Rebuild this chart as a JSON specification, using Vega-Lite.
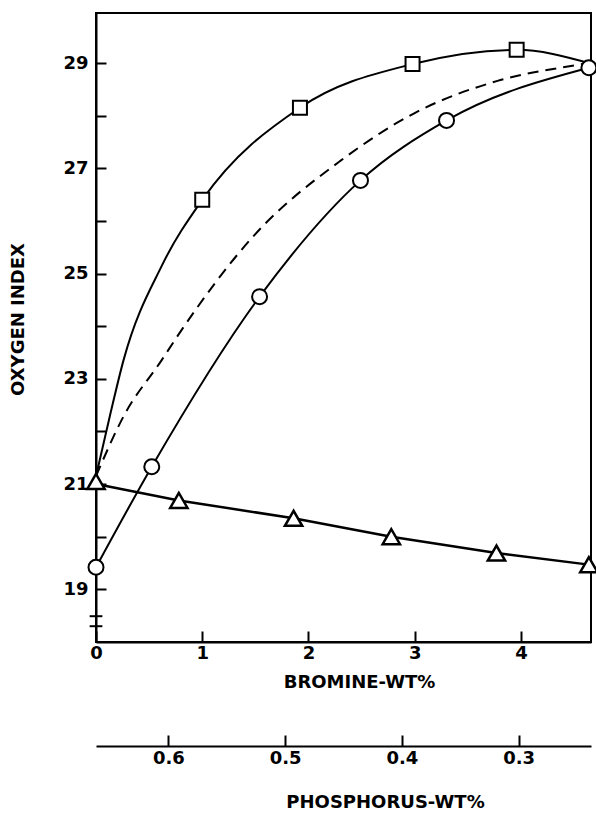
{
  "$schema": "https://vega.github.io/schema/vega-lite/v6.json",
  "width": 495,
  "height": 629,
  "autosize": {"type": "none"},
  "padding": {"left": 96, "top": 13, "right": 5, "bottom": 173},
  "background": "white",
  "config": {
    "view": {"stroke": "black", "strokeWidth": 2},
    "axis": {
      "grid": false,
      "domainColor": "black",
      "domainWidth": 2,
      "tickColor": "black",
      "tickWidth": 2,
      "labelFont": "DejaVu Sans",
      "labelFontWeight": "bold",
      "labelFontSize": 18,
      "labelColor": "black",
      "titleFont": "DejaVu Sans",
      "titleFontWeight": "bold",
      "titleFontSize": 18,
      "titleColor": "black",
      "labelFlush": false
    }
  },
  "datasets": {
    "curves": [
      {"series": "square", "b": 0, "v": 21.15},
      {"series": "square", "b": 0.13, "v": 22.29},
      {"series": "square", "b": 0.26, "v": 23.36},
      {"series": "square", "b": 0.62, "v": 25.15},
      {"series": "square", "b": 1.0, "v": 26.4},
      {"series": "square", "b": 1.92, "v": 28.15},
      {"series": "square", "b": 2.98, "v": 28.98},
      {"series": "square", "b": 3.96, "v": 29.25},
      {"series": "square", "b": 4.64, "v": 29.0},
      {"series": "circle", "b": 0, "v": 19.42},
      {"series": "circle", "b": 0.525, "v": 21.33},
      {"series": "circle", "b": 1.54, "v": 24.56},
      {"series": "circle", "b": 2.49, "v": 26.77},
      {"series": "circle", "b": 3.3, "v": 27.91},
      {"series": "circle", "b": 4.64, "v": 28.91},
      {"series": "triangle", "b": 0, "v": 21.0},
      {"series": "triangle", "b": 0.78, "v": 20.69},
      {"series": "triangle", "b": 1.86, "v": 20.35},
      {"series": "triangle", "b": 2.78, "v": 20.0},
      {"series": "triangle", "b": 3.77, "v": 19.69},
      {"series": "triangle", "b": 4.64, "v": 19.47},
      {"series": "dashed", "b": 0, "v": 21.15},
      {"series": "dashed", "b": 0.26, "v": 22.29},
      {"series": "dashed", "b": 0.62, "v": 23.36},
      {"series": "dashed", "b": 0.76, "v": 23.79},
      {"series": "dashed", "b": 1.5, "v": 25.75},
      {"series": "dashed", "b": 2.3, "v": 27.14},
      {"series": "dashed", "b": 3.0, "v": 28.05},
      {"series": "dashed", "b": 3.78, "v": 28.66},
      {"series": "dashed", "b": 4.52, "v": 28.96},
      {"series": "dashed", "b": 4.64, "v": 29.0}
    ],
    "markers": [
      {"series": "square", "b": 1.0, "v": 26.4},
      {"series": "square", "b": 1.92, "v": 28.15},
      {"series": "square", "b": 2.98, "v": 28.98},
      {"series": "square", "b": 3.96, "v": 29.25},
      {"series": "circle", "b": 0, "v": 19.42},
      {"series": "circle", "b": 0.525, "v": 21.33},
      {"series": "circle", "b": 1.54, "v": 24.56},
      {"series": "circle", "b": 2.49, "v": 26.77},
      {"series": "circle", "b": 3.3, "v": 27.91},
      {"series": "circle", "b": 4.64, "v": 28.91},
      {"series": "triangle", "b": 0, "v": 21.05},
      {"series": "triangle", "b": 0.78, "v": 20.69},
      {"series": "triangle", "b": 1.86, "v": 20.35},
      {"series": "triangle", "b": 2.78, "v": 20.0},
      {"series": "triangle", "b": 3.77, "v": 19.69},
      {"series": "triangle", "b": 4.64, "v": 19.47}
    ],
    "breaks": [
      {"b": -0.06, "b2": 0.06, "v": 18.49},
      {"b": -0.06, "b2": 0.06, "v": 18.3}
    ],
    "phos": [
      {"p": 0.6},
      {"p": 0.5},
      {"p": 0.4},
      {"p": 0.3}
    ]
  },
  "layer": [
    {
      "encoding": {
        "x": {
          "field": "b",
          "type": "quantitative",
          "scale": {"domain": [0, 4.66], "nice": false, "zero": false},
          "axis": {
            "title": "BROMINE-WT%",
            "values": [0, 1, 2, 3, 4],
            "format": "d",
            "tickSize": -11,
            "labelPadding": 22,
            "labelBaseline": "middle",
            "titleX": 263,
            "titleY": 40,
            "titleBaseline": "middle"
          }
        },
        "y": {
          "field": "v",
          "type": "quantitative",
          "scale": {"domain": [18, 29.95], "nice": false, "zero": false},
          "axis": {
            "title": "OXYGEN INDEX",
            "values": [19, 20, 21, 22, 23, 24, 25, 26, 27, 28, 29],
            "labelExpr": "datum.value % 2 == 1 ? datum.label : ''",
            "tickSize": -10,
            "labelPadding": 18,
            "titleX": -78,
            "titleY": 306,
            "titleAngle": -90,
            "titleAlign": "center",
            "titleBaseline": "middle"
          }
        }
      },
      "layer": [
        {
          "data": {"name": "curves"},
          "transform": [{"filter": "datum.series == 'square' || datum.series == 'circle'"}],
          "mark": {"type": "line", "interpolate": "monotone", "color": "black", "strokeWidth": 2},
          "encoding": {"detail": {"field": "series"}}
        },
        {
          "data": {"name": "curves"},
          "transform": [{"filter": "datum.series == 'triangle'"}],
          "mark": {"type": "line", "color": "black", "strokeWidth": 2.5},
          "encoding": {}
        },
        {
          "data": {"name": "curves"},
          "transform": [{"filter": "datum.series == 'dashed'"}],
          "mark": {"type": "line", "interpolate": "monotone", "color": "black", "strokeWidth": 2, "strokeDash": [11, 7]},
          "encoding": {}
        },
        {
          "data": {"name": "breaks"},
          "mark": {"type": "rule", "color": "black", "strokeWidth": 2},
          "encoding": {"x2": {"field": "b2"}}
        },
        {
          "data": {"name": "markers"},
          "transform": [{"filter": "datum.series == 'square'"}],
          "mark": {"type": "point", "shape": "square", "size": 196, "filled": true, "fill": "white", "stroke": "black", "strokeWidth": 2, "opacity": 1}
        },
        {
          "data": {"name": "markers"},
          "transform": [{"filter": "datum.series == 'circle'"}],
          "mark": {"type": "point", "shape": "circle", "size": 225, "filled": true, "fill": "white", "stroke": "black", "strokeWidth": 2, "opacity": 1}
        },
        {
          "data": {"name": "markers"},
          "transform": [{"filter": "datum.series == 'triangle'"}],
          "mark": {"type": "point", "shape": "triangle-up", "size": 300, "filled": true, "fill": "white", "stroke": "black", "strokeWidth": 2.5, "opacity": 1}
        }
      ]
    },
    {
      "data": {"name": "phos"},
      "mark": {"type": "rule", "strokeOpacity": 0},
      "encoding": {
        "x": {
          "field": "p",
          "type": "quantitative",
          "scale": {"domain": [0.662, 0.238], "nice": false, "zero": false},
          "axis": {
            "orient": "bottom",
            "offset": 104,
            "title": "PHOSPHORUS-WT%",
            "values": [0.6, 0.5, 0.4, 0.3],
            "format": ".1f",
            "tickSize": -11,
            "labelPadding": 23,
            "labelBaseline": "middle",
            "titleX": 289,
            "titleY": 56,
            "titleBaseline": "middle"
          }
        }
      }
    }
  ],
  "resolve": {"scale": {"x": "independent"}, "axis": {"x": "independent"}}
}
